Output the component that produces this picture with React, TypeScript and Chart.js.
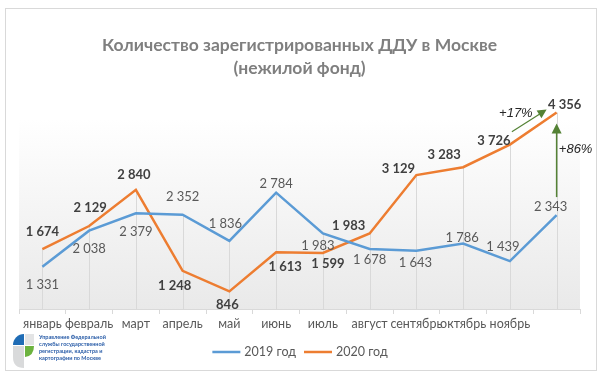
import React, { useEffect, useRef } from 'react';
import { Chart, registerables } from 'chart.js';

Chart.register(...registerables);

// ---- data ----
const categories = ['январь', 'февраль', 'март', 'апрель', 'май', 'июнь', 'июль', 'август', 'сентябрь', 'октябрь', 'ноябрь', ''];
const values2019 = [1331, 2038, 2379, 2352, 1836, 2784, 1983, 1678, 1643, 1786, 1439, 2343];
const values2020 = [1674, 2129, 2840, 1248, 846, 1613, 1599, 1983, 3129, 3283, 3726, 4356];
const seriesNames = ['2019 год', '2020 год'];
const titleLines = ['Количество зарегистрированных ДДУ в Москве', '(нежилой фонд)'];
const growthLabels = ['+17%', '+86%'];
const logoLines = ['Управление Федеральной', 'службы государственной', 'регистрации, кадастра и', 'картографии по Москве'];

// ---- styles ----
const FONT = "Lato, 'Open Sans', 'Noto Sans', sans-serif";
const ITALIC_FONT = "'Liberation Sans', 'DejaVu Sans', sans-serif";
const COLORS = ['#5b9bd5', '#ed7d31'];
const labelOffsets2019 = [[0, 18], [0, 18], [0, 19], [0, -18], [-4, -17], [0, -9], [-5, 12], [0, 11], [-1, 12], [-1, -6], [-7, -14], [-6, -8]];
const labelOffsets2020 = [[0, -17], [1, -18], [-2, -15], [-8, 15], [-2, 13], [9, 15], [5, 11], [-21, -8], [-18, -6], [-19, -12], [-16, -4], [8, -8]];

function fmt(v: number) {
  return String(v).replace(/\B(?=(\d{3})+(?!\d))/g, ' ');
}

function drawArrow(ctx: CanvasRenderingContext2D, x1: number, y1: number, x2: number, y2: number, lw: number, head: number, color: string) {
  const ang = Math.atan2(y2 - y1, x2 - x1);
  ctx.save();
  ctx.strokeStyle = color;
  ctx.fillStyle = color;
  ctx.lineWidth = lw;
  ctx.beginPath();
  ctx.moveTo(x1, y1);
  ctx.lineTo(x2 - Math.cos(ang) * head * 0.8, y2 - Math.sin(ang) * head * 0.8);
  ctx.stroke();
  ctx.beginPath();
  ctx.moveTo(x2, y2);
  ctx.lineTo(x2 - head * Math.cos(ang) + (head / 2) * Math.sin(ang), y2 - head * Math.sin(ang) - (head / 2) * Math.cos(ang));
  ctx.lineTo(x2 - head * Math.cos(ang) - (head / 2) * Math.sin(ang), y2 - head * Math.sin(ang) + (head / 2) * Math.cos(ang));
  ctx.closePath();
  ctx.fill();
  ctx.restore();
}

const decorPlugin = {
  id: 'decor',
  beforeDraw(chart: any) {
    const { ctx, chartArea: a, width, height } = chart;
    ctx.save();
    ctx.fillStyle = '#ffffff';
    ctx.fillRect(0, 0, width, height);
    ctx.strokeStyle = '#d9d9d9';
    ctx.lineWidth = 1;
    ctx.strokeRect(5.5, 8.5, 591, 362);
    const top = a.top + 14;
    const g = ctx.createLinearGradient(0, top, 0, a.bottom);
    g.addColorStop(0, '#ffffff');
    g.addColorStop(1, '#e9e9e9');
    ctx.fillStyle = g;
    ctx.fillRect(a.left, top, a.right - a.left, a.bottom - top);
    ctx.restore();
  },
  beforeDatasetsDraw(chart: any) {
    const { ctx, chartArea: a } = chart;
    const m0 = chart.getDatasetMeta(0);
    const m1 = chart.getDatasetMeta(1);
    ctx.save();
    ctx.strokeStyle = '#d9d9d9';
    ctx.lineWidth = 1;
    for (let i = 0; i < m0.data.length; i++) {
      const x = Math.round(m0.data[i].x) + 0.5;
      const y = Math.min(m0.data[i].y, m1.data[i].y);
      ctx.beginPath();
      ctx.moveTo(x, y);
      ctx.lineTo(x, a.bottom);
      ctx.stroke();
    }
    ctx.restore();
  },
  afterDatasetsDraw(chart: any) {
    const { ctx } = chart;
    const m0 = chart.getDatasetMeta(0);
    const m1 = chart.getDatasetMeta(1);
    ctx.save();
    ctx.textAlign = 'center';
    ctx.textBaseline = 'middle';
    // 2019 labels
    ctx.font = `13px ${FONT}`;
    ctx.fillStyle = '#595959';
    values2019.forEach((v, i) => {
      const p = m0.data[i];
      ctx.fillText(fmt(v), p.x + labelOffsets2019[i][0], p.y + labelOffsets2019[i][1]);
    });
    // 2020 labels
    ctx.font = `bold 13px ${FONT}`;
    ctx.fillStyle = '#404040';
    values2020.forEach((v, i) => {
      const p = m1.data[i];
      ctx.fillText(fmt(v), p.x + labelOffsets2020[i][0], p.y + labelOffsets2020[i][1]);
    });
    // growth arrows
    const n = values2020.length - 1;
    const pPrev = m1.data[n - 1];
    const pLast = m1.data[n];
    const pLast19 = m0.data[n];
    const green = '#548235';
    drawArrow(ctx, pPrev.x + 2, pPrev.y - 13, pLast.x - 10, pLast.y - 3, 1.2, 9, green);
    drawArrow(ctx, pLast19.x, pLast19.y - 18, pLast19.x, pLast.y + 11, 1.5, 10, green);
    ctx.font = `italic 13px ${ITALIC_FONT}`;
    ctx.fillStyle = '#262626';
    ctx.fillText(growthLabels[0], pPrev.x + 6, pPrev.y - 31);
    ctx.fillText(growthLabels[1], pLast.x + 19, pLast.y + 37);
    ctx.restore();
  },
  afterDraw(chart: any) {
    const { ctx } = chart;
    ctx.save();
    // legend
    ctx.font = `12.5px ${FONT}`;
    ctx.textBaseline = 'middle';
    ctx.textAlign = 'left';
    const lineLen = 28, gap = 4, itemGap = 8;
    const widths = seriesNames.map((s) => lineLen + gap + ctx.measureText(s).width);
    const total = widths.reduce((s, w) => s + w, 0) + itemGap * (widths.length - 1);
    let x = 300 - total / 2;
    const ly = 352;
    seriesNames.forEach((s, i) => {
      ctx.strokeStyle = COLORS[i];
      ctx.lineWidth = 2.5;
      ctx.beginPath();
      ctx.moveTo(x, ly);
      ctx.lineTo(x + lineLen, ly);
      ctx.stroke();
      ctx.fillStyle = '#595959';
      ctx.fillText(s, x + lineLen + gap, ly);
      x += widths[i] + itemGap;
    });
    // logo
    ctx.fillStyle = '#d9dadb';
    ctx.beginPath();
    ctx.moveTo(13, 346);
    ctx.lineTo(24, 346);
    ctx.lineTo(24, 368);
    ctx.quadraticCurveTo(13, 368, 13, 357);
    ctx.closePath();
    ctx.fill();
    ctx.fillStyle = '#e3e4e5';
    ctx.fillRect(25, 334, 9, 11);
    ctx.fillStyle = '#1f6cb5';
    ctx.beginPath();
    ctx.moveTo(24, 345);
    ctx.arc(24, 345, 11, Math.PI, Math.PI * 1.5);
    ctx.closePath();
    ctx.fill();
    ctx.fillStyle = '#6cb33f';
    ctx.beginPath();
    ctx.moveTo(25, 346);
    ctx.lineTo(34, 346);
    ctx.quadraticCurveTo(34, 356, 25, 357);
    ctx.closePath();
    ctx.fill();
    ctx.font = `bold 5.5px ${FONT}`;
    ctx.fillStyle = '#2a5da8';
    logoLines.forEach((t, i) => ctx.fillText(t, 39, 337 + i * 7));
    ctx.restore();
  },
};

export default function App() {
  const ref = useRef<HTMLCanvasElement>(null);
  useEffect(() => {
    document.body.style.margin = '0';
    const chart = new Chart(ref.current as HTMLCanvasElement, {
      type: 'line',
      data: {
        labels: categories,
        datasets: [
          { label: seriesNames[0], data: values2019, borderColor: COLORS[0], backgroundColor: COLORS[0], borderWidth: 2.5, pointRadius: 0, tension: 0 },
          { label: seriesNames[1], data: values2020, borderColor: COLORS[1], backgroundColor: COLORS[1], borderWidth: 2.5, pointRadius: 0, tension: 0 },
        ],
      },
      options: {
        responsive: false,
        animation: false,
        devicePixelRatio: 1,
        layout: { padding: { left: 19, right: 20, top: 10, bottom: 46 } },
        plugins: {
          legend: { display: false },
          tooltip: { enabled: false },
          title: {
            display: true,
            text: titleLines,
            color: '#7f7f7f',
            font: { family: FONT, size: 17.5, weight: 'bold', lineHeight: 1.32 },
            padding: { top: 24, bottom: 25 },
          },
        },
        scales: {
          x: {
            type: 'category',
            offset: true,
            grid: { display: true, drawOnChartArea: false, drawTicks: true, tickLength: 5, color: '#d9d9d9', offset: true },
            border: { display: true, color: '#d9d9d9' },
            ticks: { color: '#595959', font: { family: FONT, size: 12.5 }, padding: 2, autoSkip: false, maxRotation: 0 },
          },
          y: { display: false, min: 500, max: 4500 },
        },
      },
      plugins: [decorPlugin],
    } as any);
    return () => chart.destroy();
  }, []);
  return <canvas ref={ref} width={600} height={379} style={{ display: 'block', width: 600, height: 379 }} />;
}
